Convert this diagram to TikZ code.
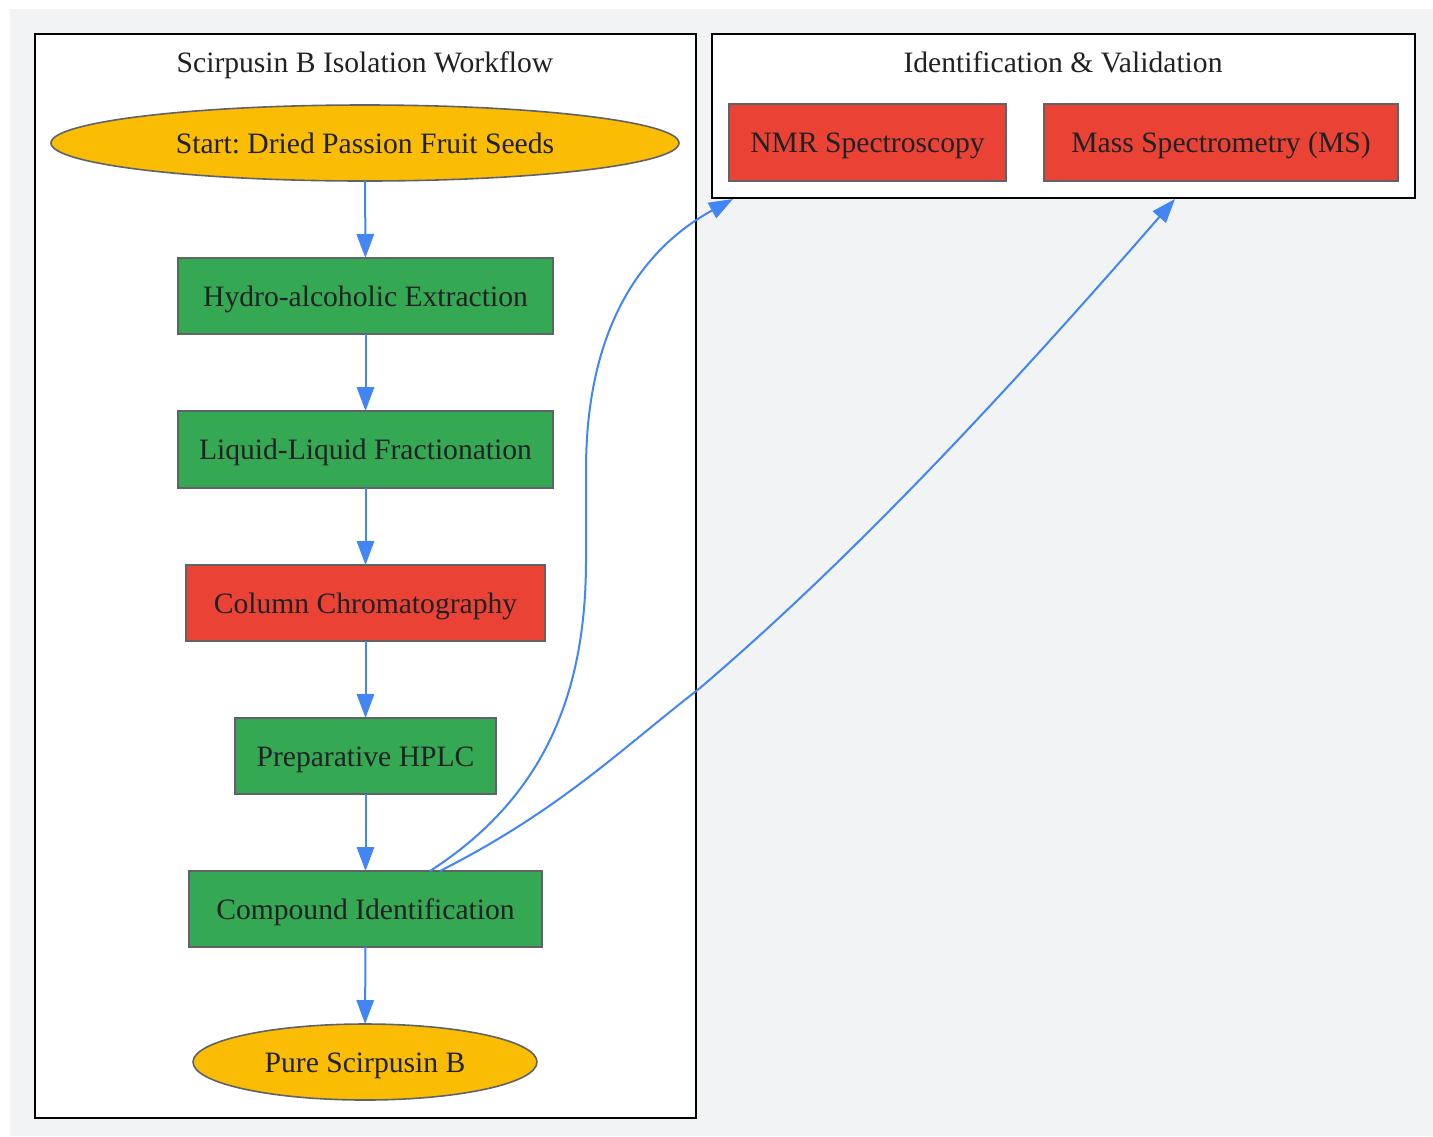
\documentclass[tikz,border=0pt]{standalone}
\usepackage{fontspec}
\setmainfont{Liberation Serif}
\frenchspacing
\usetikzlibrary{shapes.geometric,arrows.meta}
\definecolor{bgc}{HTML}{F1F3F4}
\definecolor{txt}{HTML}{202124}
\definecolor{edgec}{HTML}{5F6368}
\definecolor{gyellow}{HTML}{FBBC04}
\definecolor{ggreen}{HTML}{34A853}
\definecolor{gred}{HTML}{EA4335}
\definecolor{gblue}{HTML}{4285F4}
\tikzset{
  x=0.75pt, y=-0.75pt,
  every node/.style={font=\fontsize{22.2pt}{26pt}\selectfont\frenchspacing, text=txt, inner sep=0pt, outer sep=0pt, text height=19.5pt, text depth=4.5pt},
  boxg/.style={rectangle, draw=edgec, line width=1.2pt, fill=ggreen},
  boxr/.style={rectangle, draw=edgec, line width=1.2pt, fill=gred},
  ell/.style={ellipse, draw=edgec, line width=1.2pt, fill=gyellow},
  cluster/.style={rectangle, draw=black, line width=1.5pt, fill=white, text height=, text depth=},
  flow/.style={draw=gblue, line width=1.5pt, -{Triangle[length=18pt,width=13pt]}}
}
\begin{document}
\begin{tikzpicture}
\useasboundingbox (0,0) rectangle (1433,1136);
\fill[white] (0,0) rectangle (1433,1136);
\fill[bgc] (10,9) rectangle (1433,1136);
% clusters
\node[cluster, minimum width=495.75pt, minimum height=813pt] (cl1) at (365.5,576) {};
\node[cluster, minimum width=527.25pt, minimum height=123pt] (cl2) at (1063.5,116) {};
\node (t1) at (365,62) {Scirpusin B Isolation Workflow};
\node (t2) at (1063,62) {Identification \& Validation};
% nodes
\node[ell, minimum width=471pt, minimum height=57pt] (start) at (365,143) {Start: Dried Passion Fruit Seeds};
\node[boxg, minimum width=281.25pt, minimum height=57pt] (hydro) at (365.5,296) {Hydro-alcoholic Extraction};
\node[boxg, minimum width=281.25pt, minimum height=57.75pt] (liq) at (365.5,449.5) {Liquid-Liquid Fractionation};
\node[boxr, minimum width=269.25pt, minimum height=57pt] (col) at (365.5,603) {Column Chromatography};
\node[boxg, minimum width=195.75pt, minimum height=57pt] (hplc) at (365.5,756) {Preparative HPLC};
\node[boxg, minimum width=264.75pt, minimum height=57pt] (comp) at (365.5,909) {Compound Identification};
\node[ell, minimum width=258pt, minimum height=57pt] (pure) at (365,1062) {Pure Scirpusin B};
\node[boxr, minimum width=207.75pt, minimum height=57.75pt] (nmr) at (867.5,142.5) {NMR Spectroscopy};
\node[boxr, minimum width=265.5pt, minimum height=57.75pt] (ms) at (1221,142.5) {Mass Spectrometry (MS)};
% edges
\draw[flow] (start) -- (hydro);
\draw[flow] (hydro) -- (liq);
\draw[flow] (liq) -- (col);
\draw[flow] (col) -- (hplc);
\draw[flow] (hplc) -- (comp);
\draw[flow] (comp) -- (pure);
\coordinate (nmrIn) at (733,199);
\coordinate (msIn) at (1175,199);
\coordinate (compA) at (430,871);
\coordinate (compB) at (440,871);
\draw[flow] (compA) .. controls (540,800) and (586,700) .. (586,560) -- (586,470) .. controls (586,330) and (640,250) .. (nmrIn);
\draw[flow] (compB) .. controls (560,810) and (620,750) .. (700,688) .. controls (850,560) and (1000,400) .. (msIn);
\end{tikzpicture}
\end{document}
